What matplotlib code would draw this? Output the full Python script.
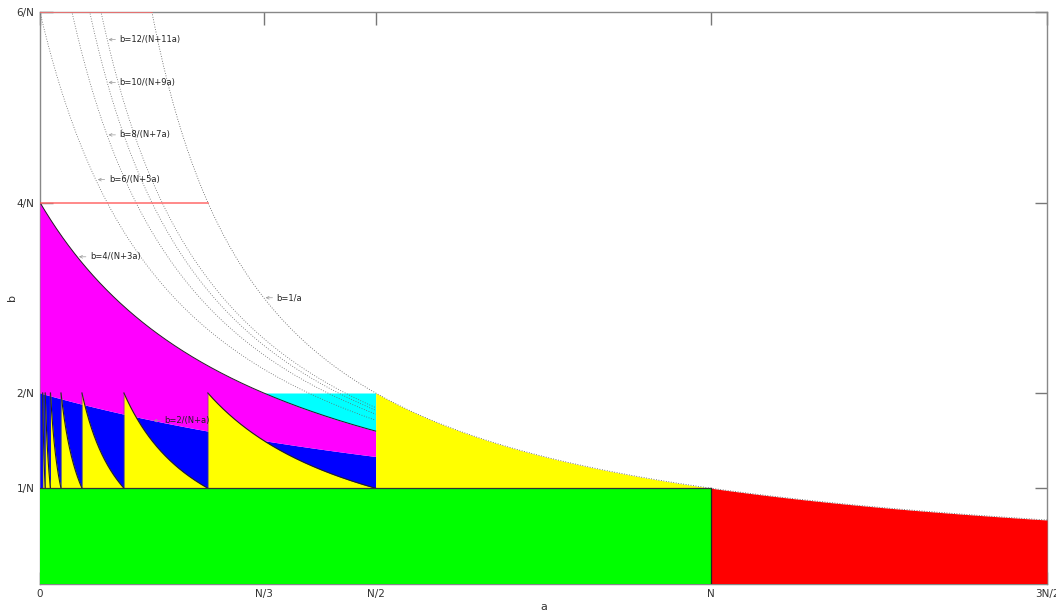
import numpy as np
import matplotlib
matplotlib.use("Agg")
import matplotlib.pyplot as plt

# N = 1 internally, tick labels carry the N
N = 1.0

x_ticks = [0, N / 3, N / 2, N, 3 * N / 2]
x_tick_labels = ["0", "N/3", "N/2", "N", "3N/2"]
y_ticks = [1 / N, 2 / N, 4 / N, 6 / N]
y_tick_labels = ["1/N", "2/N", "4/N", "6/N"]

# family b = k/(N+(k-1)a), dotted ones drawn up to a = N/2
dotted_family = [6, 8, 10, 12]
# sawtooth teeth: on [N/2^(j+1), N/2^j] yellow is under b = 1/(2^j a)
teeth = [1, 2, 3, 4, 5, 6, 7]
# red guide lines: level, drawn out to where b = 1/a
guide_levels = [4 / N, 6 / N]

# labels: (text, arrow tip a, arrow tip b)
labels = [
    ("b=12/(N+11a)", 0.102, 5.71),
    ("b=10/(N+9a)", 0.102, 5.26),
    ("b=8/(N+7a)", 0.102, 4.71),
    ("b=6/(N+5a)", 0.086, 4.24),
    ("b=4/(N+3a)", 0.058, 3.43),
    ("b=1/a", 0.336, 3.00),
    ("b=2/(N+a)", 0.169, 1.71),
]


def fam(k, a):
    return k / (N + (k - 1) * a)


fig = plt.figure(figsize=(10.56, 6.11), dpi=100)
ax = fig.add_axes([40 / 1056, 1 - 583.5 / 611, 1007 / 1056, 571.5 / 611])
ax.set_axisbelow(True)

a_half = np.linspace(0, N / 2, 400)
# blue: 1/N .. 2/(N+a)
ax.fill_between(a_half, 1 / N, fam(2, a_half), color="#0000ff", lw=0, zorder=3)
# magenta: 2/(N+a) .. 4/(N+3a)
ax.fill_between(a_half, fam(2, a_half), fam(4, a_half), color="#ff00ff", lw=0, zorder=3)
# cyan: 4/(N+3a) .. 2/N for a in [N/3, N/2]
a_c = np.linspace(N / 3, N / 2, 200)
ax.fill_between(a_c, fam(4, a_c), 2 / N, color="#00ffff", lw=0, zorder=3)

# yellow teeth
for j in teeth:
    lo, hi = N / 2 ** (j + 1), N / 2 ** j
    a_t = np.linspace(lo, hi, 200)
    top = 1 / (2 ** j * a_t)
    ax.fill_between(a_t, 1 / N, top, color="#ffff00", lw=0, zorder=4)
    ax.plot(a_t, top, color="#222222", lw=0.8, zorder=6)
    ax.plot([lo, lo], [1 / N, 2 / N], color="#555555", lw=0.3, zorder=6)

# yellow between N/2 and N under 1/a
a_y = np.linspace(N / 2, N, 300)
ax.fill_between(a_y, 1 / N, 1 / a_y, color="#ffff00", lw=0, zorder=3)

# green and red
ax.fill_between([0, N], 0, 1 / N, color="#00ff00", lw=0, zorder=3)
a_r = np.linspace(N, 1.5 * N, 300)
ax.fill_between(a_r, 0, 1 / a_r, color="#ff0000", lw=0, zorder=3)

# boundary lines
ax.plot([0, N], [1 / N, 1 / N], color="#333333", lw=0.9, zorder=6)
ax.plot([N, N], [0, 1 / N], color="#222222", lw=0.9, zorder=6)
ax.plot(a_half, fam(4, a_half), color="#222222", lw=0.7, zorder=6)

dot = (0, (1, 2))
for k in dotted_family:
    ax.plot(a_half, fam(k, a_half), color="#666666", lw=0.6, ls=dot, zorder=6)
a_inv = np.linspace(1 / 6, 1.5, 600)
ax.plot(a_inv, 1 / a_inv, color="#555555", lw=0.6, ls=dot, zorder=6)

for lev in guide_levels:
    ax.plot([0, 1 / lev], [lev, lev], color="#ff6a6a", lw=1.1, zorder=6)

for text, xa, yb in labels:
    ax.annotate(text, xy=(xa, yb), xytext=(8, 0), textcoords="offset points",
                fontsize=6, color="#222222", va="center", ha="left",
                arrowprops=dict(arrowstyle="->", color="#999999", lw=0.5,
                                mutation_scale=5, shrinkA=1, shrinkB=0),
                zorder=7)

ax.set_xlim(0, 1.5 * N)
ax.set_ylim(0, 6 / N)
ax.set_xticks(x_ticks)
ax.set_xticklabels(x_tick_labels)
ax.set_yticks(y_ticks)
ax.set_yticklabels(y_tick_labels)
ax.tick_params(direction="in", length=9, width=1, color="#777777",
               labelsize=7.5, labelcolor="#333333", pad=4,
               top=True, right=True)
for sp in ax.spines.values():
    sp.set_color("#888888")
    sp.set_linewidth(1)
    sp.set_zorder(2)

ax.set_xlabel("a", fontsize=8, color="#333333", labelpad=2)
ax.set_ylabel("b", fontsize=8, color="#333333")
ax.yaxis.set_label_coords(-23 / 1007, 0.5)

fig.savefig("out.png", dpi=100)
